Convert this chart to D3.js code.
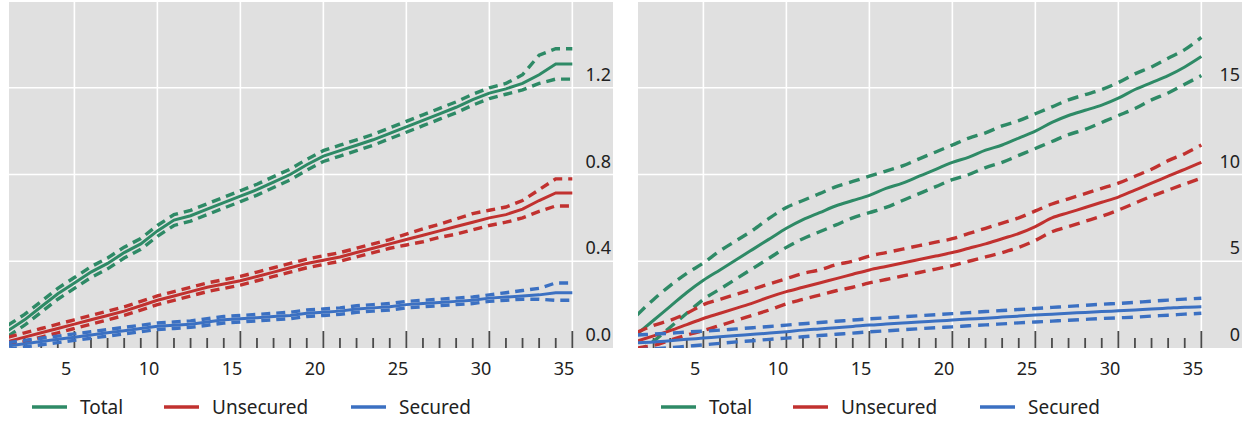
<!DOCTYPE html>
<html>
<head>
<meta charset="utf-8">
<script src="https://cdn.jsdelivr.net/npm/d3@7"></script>
<style>
  body { margin: 0; background: #fff; }
  svg text { font-family: "Noto Sans", "Open Sans", sans-serif; fill: #222; }
</style>
</head>
<body>
<svg id="chart" width="1256" height="421"></svg>
<script>
// horizon (x values) shared by both panels
var horizon = d3.range(1, 36);

// left panel
var leftTotal = [0.08,0.13,0.19,0.25,0.30,0.35,0.39,0.44,0.48,0.54,0.59,0.61,0.64,0.67,0.70,0.73,0.765,0.80,0.845,0.885,0.91,0.935,0.96,0.99,1.02,1.05,1.08,1.11,1.145,1.175,1.195,1.22,1.26,1.31,1.31];
var leftTotalHi = [0.105,0.155,0.215,0.275,0.325,0.375,0.415,0.465,0.505,0.565,0.615,0.635,0.665,0.695,0.725,0.755,0.79,0.825,0.87,0.91,0.935,0.96,0.985,1.015,1.045,1.075,1.105,1.135,1.17,1.20,1.22,1.26,1.35,1.38,1.38];
var leftTotalLo = [0.055,0.105,0.165,0.225,0.275,0.325,0.365,0.415,0.455,0.515,0.565,0.585,0.615,0.645,0.675,0.705,0.74,0.775,0.82,0.86,0.885,0.91,0.935,0.965,0.995,1.025,1.055,1.085,1.12,1.15,1.17,1.19,1.22,1.24,1.24];
var leftUns = [0.03,0.05,0.07,0.09,0.11,0.13,0.15,0.17,0.195,0.22,0.24,0.26,0.28,0.295,0.31,0.33,0.35,0.37,0.39,0.405,0.42,0.44,0.46,0.48,0.50,0.52,0.54,0.56,0.58,0.60,0.615,0.64,0.68,0.715,0.715];
var leftUnsHi = [0.05,0.07,0.09,0.11,0.13,0.15,0.17,0.19,0.215,0.24,0.26,0.28,0.30,0.315,0.33,0.35,0.37,0.39,0.41,0.425,0.44,0.46,0.48,0.50,0.525,0.55,0.57,0.595,0.62,0.635,0.65,0.68,0.73,0.78,0.78];
var leftUnsLo = [0.01,0.03,0.05,0.07,0.09,0.11,0.13,0.15,0.175,0.20,0.22,0.24,0.26,0.275,0.29,0.31,0.33,0.35,0.37,0.385,0.40,0.42,0.44,0.46,0.475,0.49,0.51,0.525,0.545,0.565,0.58,0.60,0.63,0.655,0.655];
var leftSec = [0.01,0.02,0.03,0.04,0.05,0.06,0.07,0.08,0.09,0.10,0.105,0.11,0.12,0.13,0.135,0.14,0.145,0.15,0.16,0.165,0.17,0.18,0.185,0.19,0.20,0.205,0.21,0.215,0.22,0.23,0.235,0.24,0.245,0.255,0.255];
var leftSecHi = [0.025,0.035,0.045,0.055,0.065,0.075,0.085,0.095,0.105,0.115,0.12,0.125,0.135,0.145,0.15,0.155,0.16,0.165,0.175,0.18,0.185,0.195,0.20,0.205,0.215,0.22,0.225,0.23,0.235,0.245,0.255,0.265,0.275,0.30,0.30];
var leftSecLo = [-0.005,0.005,0.015,0.025,0.035,0.045,0.055,0.065,0.075,0.085,0.09,0.095,0.105,0.115,0.12,0.125,0.13,0.135,0.145,0.15,0.155,0.165,0.17,0.175,0.185,0.19,0.195,0.20,0.205,0.215,0.22,0.225,0.225,0.22,0.22];

// right panel
var rightTotal = [0.8,1.6,2.4,3.2,3.9,4.5,5.1,5.7,6.3,6.9,7.4,7.8,8.2,8.5,8.8,9.2,9.5,9.9,10.3,10.7,11.0,11.4,11.7,12.1,12.5,13.0,13.4,13.7,14.0,14.4,14.9,15.3,15.7,16.2,16.8];
var rightTotalHi = [1.9,2.8,3.6,4.3,4.9,5.6,6.2,6.8,7.5,8.1,8.5,8.9,9.3,9.6,9.9,10.2,10.5,10.9,11.3,11.7,12.1,12.4,12.8,13.1,13.5,13.9,14.3,14.6,14.9,15.3,15.8,16.2,16.7,17.2,17.9];
var rightTotalLo = [-0.2,0.4,1.2,2.0,2.8,3.4,4.0,4.6,5.2,5.8,6.3,6.7,7.1,7.5,7.8,8.1,8.5,8.9,9.3,9.7,10.0,10.4,10.7,11.1,11.5,11.9,12.3,12.6,13.0,13.4,13.8,14.3,14.7,15.2,15.7];
var rightUns = [0.4,0.7,1.0,1.35,1.7,2.0,2.3,2.6,2.95,3.25,3.5,3.75,4.0,4.25,4.5,4.7,4.9,5.1,5.3,5.5,5.75,6.0,6.3,6.6,7.0,7.5,7.8,8.1,8.4,8.7,9.1,9.5,9.9,10.3,10.7];
var rightUnsHi = [0.9,1.3,1.6,2.0,2.5,2.8,3.1,3.4,3.7,4.0,4.3,4.5,4.8,5.0,5.3,5.5,5.7,5.9,6.1,6.3,6.6,6.9,7.2,7.5,7.9,8.3,8.6,8.9,9.2,9.5,9.9,10.3,10.8,11.2,11.7];
var rightUnsLo = [0.0,0.15,0.45,0.75,1.0,1.3,1.6,1.9,2.2,2.55,2.8,3.05,3.3,3.5,3.75,3.95,4.15,4.35,4.55,4.75,5.0,5.25,5.5,5.8,6.2,6.7,7.0,7.3,7.6,7.95,8.35,8.75,9.1,9.45,9.8];
var rightSec = [0.3,0.35,0.42,0.5,0.57,0.65,0.72,0.79,0.86,0.94,1.03,1.1,1.17,1.24,1.32,1.38,1.44,1.5,1.55,1.61,1.67,1.72,1.78,1.84,1.9,1.95,2.0,2.05,2.1,2.14,2.19,2.25,2.3,2.35,2.38];
var rightSecHi = [0.75,0.8,0.85,0.92,0.97,1.03,1.1,1.17,1.24,1.32,1.4,1.47,1.54,1.61,1.68,1.74,1.8,1.86,1.92,1.98,2.04,2.1,2.16,2.22,2.28,2.34,2.4,2.46,2.52,2.57,2.63,2.7,2.76,2.82,2.87];
var rightSecLo = [-0.1,-0.05,0.02,0.1,0.18,0.27,0.35,0.42,0.5,0.57,0.65,0.72,0.79,0.86,0.93,0.99,1.05,1.11,1.17,1.22,1.28,1.33,1.39,1.45,1.5,1.55,1.6,1.65,1.7,1.74,1.78,1.84,1.89,1.95,2.0];

var seriesNames = ["Total", "Unsecured", "Secured"];
var seriesColors = ["#2e8a66", "#c1312f", "#3b70c2"];
var xTickLabels = [5, 10, 15, 20, 25, 30, 35];
var leftYTicks = [0, 0.4, 0.8, 1.2];
var rightYTicks = [0, 5, 10, 15];

var panels = [
  { left: 8, yMax: 1.6, yTicks: leftYTicks, fmt: d3.format(".1f"),
    series: [[leftTotal, leftTotalHi, leftTotalLo], [leftUns, leftUnsHi, leftUnsLo], [leftSec, leftSecHi, leftSecLo]] },
  { left: 637, yMax: 20, yTicks: rightYTicks, fmt: d3.format("d"),
    series: [[rightTotal, rightTotalHi, rightTotalLo], [rightUns, rightUnsHi, rightUnsLo], [rightSec, rightSecHi, rightSecLo]] }
];

var svg = d3.select("#chart");
var plotW = 605, plotTop = 1, plotBottom = 348;

panels.forEach(function(p, pi) {
  var x = d3.scaleLinear().domain([1, 37.45]).range([p.left, p.left + plotW]);
  var y = d3.scaleLinear().domain([0, p.yMax]).range([plotBottom, plotTop]);
  var g = svg.append("g");

  g.append("rect")
    .attr("x", p.left + 1).attr("y", plotTop + 1)
    .attr("width", plotW - 1).attr("height", plotBottom - plotTop - 1)
    .attr("fill", "#e0e0e0");

  g.append("clipPath").attr("id", "clip" + pi)
    .append("rect")
    .attr("x", p.left + 1).attr("y", plotTop + 1)
    .attr("width", plotW - 1).attr("height", plotBottom - plotTop - 1);

  // gridlines
  g.selectAll(".hgrid").data(p.yTicks.filter(function(d) { return d > 0; }))
    .enter().append("line")
    .attr("x1", p.left + 1).attr("x2", p.left + plotW)
    .attr("y1", function(d) { return y(d); }).attr("y2", function(d) { return y(d); })
    .attr("stroke", "#fff").attr("stroke-width", 1.6);

  g.selectAll(".vgrid").data(xTickLabels)
    .enter().append("line")
    .attr("x1", function(d) { return x(d); }).attr("x2", function(d) { return x(d); })
    .attr("y1", plotTop + 1).attr("y2", plotBottom)
    .attr("stroke", "#fff").attr("stroke-width", 1.6);

  // ticks along the bottom, pointing up
  g.selectAll(".tick").data(d3.range(2, 36))
    .enter().append("line")
    .attr("x1", function(d) { return x(d); }).attr("x2", function(d) { return x(d); })
    .attr("y1", function(d) { return d % 5 === 0 ? plotBottom - 17 : plotBottom - 10; })
    .attr("y2", plotBottom)
    .attr("stroke", "#4a4a4a").attr("stroke-width", 1.8);

  // x labels sit half a unit left of their gridline
  g.selectAll(".xlab").data(xTickLabels)
    .enter().append("text")
    .attr("x", function(d) { return x(d - 0.5); })
    .attr("y", 375)
    .attr("text-anchor", "middle")
    .style("font-size", "18px")
    .text(function(d) { return d; });

  // y labels on the right, above their gridline
  g.selectAll(".ylab").data(p.yTicks)
    .enter().append("text")
    .attr("x", p.left + plotW - 2)
    .attr("y", function(d) { return y(d) - 7; })
    .attr("text-anchor", "end")
    .style("font-size", "18px")
    .text(function(d) { return p.fmt(d); });

  var lines = g.append("g").attr("clip-path", "url(#clip" + pi + ")");

  p.series.forEach(function(s, si) {
    s.forEach(function(vals, k) {
      var line = d3.line()
        .x(function(d, i) { return x(horizon[i]); })
        .y(function(d) { return y(d); })
        .curve(pi === 1 ? d3.curveMonotoneX : d3.curveLinear);
      lines.append("path")
        .datum(vals)
        .attr("d", line)
        .attr("fill", "none")
        .attr("stroke", seriesColors[si])
        .attr("stroke-width", k === 0 ? 3 : 3.4)
        .attr("stroke-dasharray", k === 0 ? null : (pi === 1 ? "11,7" : "9,6"));
    });
  });

  // legend
  var legendX = [p.left + 24, p.left + 156, p.left + 343];
  var leg = g.selectAll(".leg").data(seriesNames)
    .enter().append("g")
    .attr("transform", function(d, i) { return "translate(" + legendX[i] + ",407)"; });
  leg.append("line")
    .attr("x1", 0).attr("x2", 35)
    .attr("stroke", function(d, i) { return seriesColors[i]; })
    .attr("stroke-width", 3.5);
  leg.append("text")
    .attr("x", 48).attr("y", 7)
    .style("font-size", "19px")
    .text(function(d) { return d; });
});
</script>
</body>
</html>
